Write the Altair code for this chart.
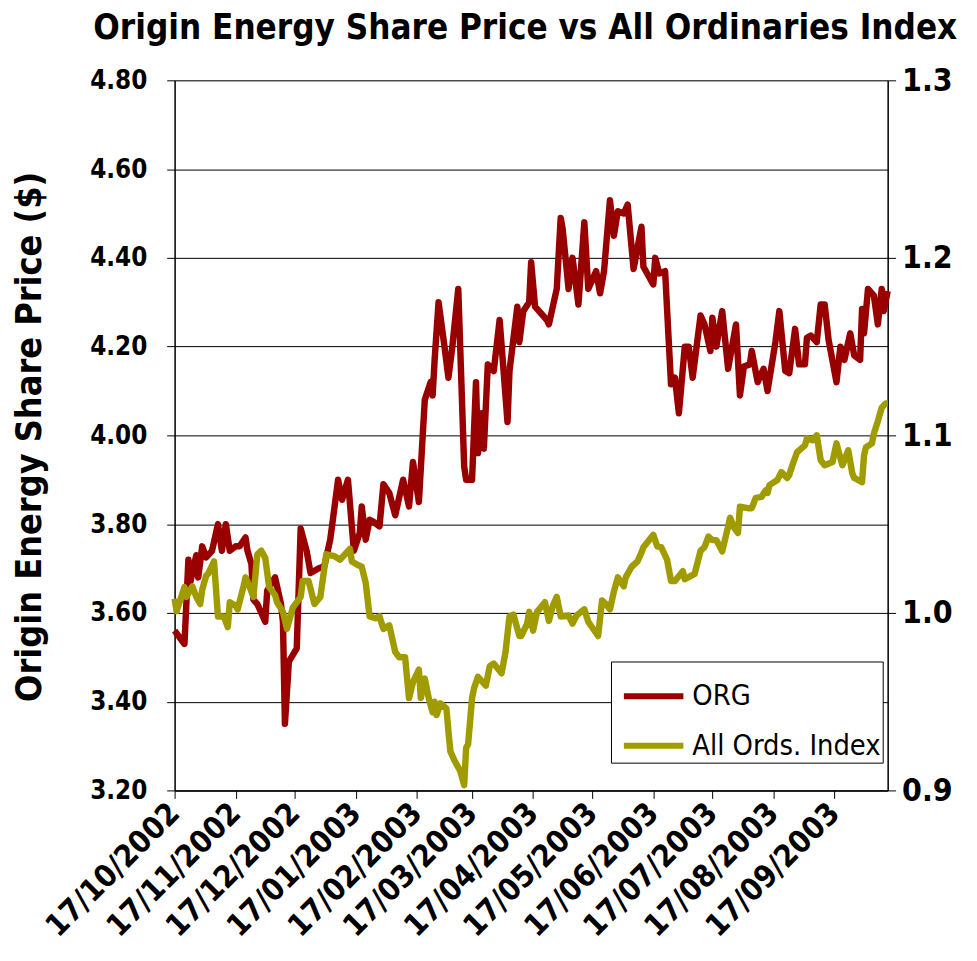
import altair as alt
import pandas as pd

# ORG share price: (days since 17/10/2002, price $)
org_days = [0, 5, 7, 8, 11, 12, 14, 16, 19, 22, 24, 26, 28, 31, 33, 36, 37, 39, 40, 42,
            46, 47, 51, 54, 55, 56, 58, 62, 64, 67, 69, 73, 76, 79, 83, 85, 88, 91, 94, 95,
            97, 99, 101, 104, 106, 109, 112, 116, 119, 121, 124, 127, 130, 131, 132, 134, 137, 139, 141, 144,
            147, 148, 151, 153, 154, 156, 157, 159, 162, 165, 169, 170, 174, 175, 177, 180, 181, 183, 189, 190,
            192, 194, 196, 197, 200, 202, 205, 208, 210, 214, 216, 218, 221, 223, 225, 228, 230, 233, 237, 238,
            243, 244, 246, 249, 252, 254, 256, 259, 261, 263, 267, 269, 272, 273, 275, 278, 281, 285, 287, 289,
            292, 293, 296, 299, 301, 305, 307, 310, 312, 315, 317, 320, 321, 323, 326, 328, 330, 332, 336, 338,
            340, 343, 345, 348, 349, 350, 352, 355, 357, 359, 360, 362]
org_vals = [3.56, 3.53, 3.72, 3.67, 3.73, 3.68, 3.75, 3.725, 3.74, 3.80, 3.74, 3.80, 3.74, 3.75, 3.75, 3.77, 3.74, 3.71, 3.63, 3.62,
            3.58, 3.65, 3.68, 3.62, 3.58, 3.35, 3.49, 3.52, 3.79, 3.74, 3.69, 3.70, 3.705, 3.765, 3.90, 3.855, 3.90, 3.74, 3.78, 3.84,
            3.765, 3.81, 3.805, 3.795, 3.89, 3.87, 3.82, 3.90, 3.84, 3.94, 3.85, 4.08, 4.12, 4.09, 4.17, 4.30, 4.20, 4.13, 4.20, 4.33,
            3.93, 3.90, 3.90, 4.12, 3.96, 4.05, 3.97, 4.16, 4.145, 4.26, 4.03, 4.145, 4.29, 4.21, 4.28, 4.30, 4.39, 4.29, 4.26, 4.25,
            4.29, 4.33, 4.49, 4.465, 4.33, 4.40, 4.295, 4.48, 4.33, 4.37, 4.32, 4.37, 4.53, 4.45, 4.505, 4.50, 4.52, 4.375, 4.47, 4.38,
            4.34, 4.40, 4.365, 4.37, 4.115, 4.13, 4.05, 4.20, 4.20, 4.13, 4.27, 4.25, 4.19, 4.265, 4.20, 4.28, 4.15, 4.25, 4.09, 4.155,
            4.16, 4.19, 4.12, 4.15, 4.10, 4.21, 4.28, 4.145, 4.14, 4.24, 4.16, 4.16, 4.22, 4.225, 4.21, 4.295, 4.295, 4.215, 4.12, 4.20,
            4.17, 4.23, 4.18, 4.17, 4.285, 4.23, 4.33, 4.315, 4.25, 4.33, 4.28, 4.325]

# All Ordinaries Index (relative): (days since 17/10/2002, index)
ords_days = [0, 1, 5, 6, 9, 11, 13, 14, 16, 17, 20, 22, 25, 27, 28, 31, 32, 35, 36, 38,
             40, 42, 44, 46, 48, 51, 52, 55, 57, 60, 64, 65, 68, 71, 74, 77, 81, 84, 89, 90,
             93, 95, 97, 99, 102, 104, 106, 109, 112, 114, 117, 119, 121, 124, 125, 127, 129, 131, 132, 133,
             135, 138, 139, 140, 142, 145, 147, 148, 149, 151, 152, 154, 158, 160, 162, 166, 168, 170, 172, 175,
             176, 179, 180, 182, 184, 188, 190, 192, 194, 196, 200, 202, 204, 208, 210, 215, 217, 219, 221, 223,
             225, 228, 229, 232, 235, 237, 238, 243, 245, 247, 250, 252, 254, 258, 259, 264, 267, 269, 271, 273,
             275, 278, 281, 282, 284, 286, 287, 291, 293, 295, 298, 300, 301, 302, 306, 308, 311, 312, 314, 316,
             320, 321, 324, 326, 328, 330, 334, 336, 338, 339, 342, 344, 345, 349, 350, 351, 354, 355, 357, 359,
             361, 362]
ords_vals = [1.008, 1.001, 1.0145, 1.009, 1.015, 1.009, 1.005, 1.013, 1.021, 1.022, 1.029, 0.998, 0.998, 0.992, 1.006, 1.004, 1.002, 1.015, 1.020, 1.015,
             1.009, 1.033, 1.035, 1.031, 1.0145, 1.010, 1.006, 1.0006, 0.991, 1.003, 1.009, 1.018, 1.018, 1.005, 1.009, 1.033, 1.032, 1.030, 1.036, 1.029,
             1.027, 1.026, 1.017, 0.998, 0.997, 0.998, 0.991, 0.993, 0.978, 0.975, 0.975, 0.952, 0.961, 0.968, 0.952, 0.963, 0.952, 0.944, 0.950, 0.9425,
             0.949, 0.946, 0.9335, 0.922, 0.917, 0.911, 0.903, 0.924, 0.926, 0.952, 0.9575, 0.964, 0.959, 0.970, 0.9715, 0.966, 0.978, 0.998, 0.999, 0.987,
             0.987, 0.994, 1.0006, 0.990, 1.0006, 1.006, 0.9955, 1.004, 1.009, 0.998, 0.9985, 0.994, 0.9985, 1.002, 0.995, 0.987, 1.007, 1.005, 1.002, 1.012,
             1.020, 1.015, 1.020, 1.026, 1.029, 1.034, 1.037, 1.044, 1.0375, 1.037, 1.030, 1.018, 1.018, 1.0235, 1.019, 1.022, 1.035, 1.037, 1.043, 1.041,
             1.041, 1.0347, 1.0486, 1.0536, 1.048, 1.045, 1.0598, 1.059, 1.059, 1.0648, 1.0654, 1.069, 1.0676, 1.072, 1.0749, 1.0793, 1.076, 1.0777, 1.0844, 1.0905,
             1.0944, 1.0983, 1.0972, 1.100, 1.086, 1.0832, 1.085, 1.0955, 1.0872, 1.0832, 1.0916, 1.0788, 1.076, 1.0737, 1.0888, 1.0933, 1.0955, 1.101, 1.108, 1.1156,
             1.118, 1.118]

series_names = ["ORG", "All Ords. Index"]
series_colors = ["#990000", "#A09C00"]
tick_months = [(2002, 10), (2002, 11), (2002, 12), (2003, 1), (2003, 2), (2003, 3), (2003, 4),
               (2003, 5), (2003, 6), (2003, 7), (2003, 8), (2003, 9)]
left_ticks = [3.2, 3.4, 3.6, 3.8, 4.0, 4.2, 4.4, 4.6, 4.8]
right_ticks = [0.9, 1.0, 1.1, 1.2, 1.3]

start = pd.Timestamp("2002-10-17")
org_df = pd.DataFrame({
    "date": [(start + pd.Timedelta(days=d)).strftime("%Y-%m-%d") for d in org_days],
    "price": org_vals,
    "series": series_names[0],
})
ords_df = pd.DataFrame({
    "date": [(start + pd.Timedelta(days=d)).strftime("%Y-%m-%d") for d in ords_days],
    "index": ords_vals,
    "series": series_names[1],
})

FONT = "DejaVu Sans Condensed, DejaVu Sans"

x_enc = alt.X(
    "date:T",
    scale=alt.Scale(type="utc",
                    domain=[alt.DateTime(year=2002, month=10, date=17, utc=True),
                            alt.DateTime(year=2003, month=10, date=14, utc=True)]),
    axis=alt.Axis(
        title="",
        values=[alt.DateTime(year=y, month=m, date=17, utc=True) for y, m in tick_months],
        format="%d/%m/%Y",
        labelAngle=315,
        labelAlign="right",
        labelBaseline="middle",
        labelFontSize=31,
        labelFontWeight="bold",
        labelFont=FONT,
        labelColor="black",
        labelLimit=400,
        labelPadding=10,
        labelOverlap=False,
        tickSize=8,
        tickColor="black",
        domainColor="black",
        domainWidth=1.5,
        grid=False,
    ),
)

color_enc = alt.Color(
    "series:N",
    scale=alt.Scale(domain=series_names, range=series_colors),
    legend=alt.Legend(
        title="",
        orient="none",
        legendX=440,
        legendY=586,
        symbolType="stroke",
        symbolStrokeWidth=6,
        symbolSize=3600,
        symbolOffset=8,
        labelFontSize=29,
        labelFont=FONT,
        labelColor="black",
        labelLimit=400,
        labelOffset=6,
        rowPadding=2,
        padding=2,
        strokeColor="black",
        fillColor="white",
    ),
)

org_line = alt.Chart(org_df).mark_line(strokeWidth=6.5, strokeJoin="round").encode(
    x=x_enc,
    y=alt.Y(
        "price:Q",
        scale=alt.Scale(domain=[3.2, 4.8], nice=False, zero=False),
        axis=alt.Axis(
            title="Origin Energy Share Price ($)",
            titleFontSize=36,
            titleFont=FONT,
            titleFontWeight="bold",
            titleColor="black",
            titleAngle=270,
            titleX=-146,
            titleY=359,
            titleAlign="center",
            titleBaseline="middle",
            values=left_ticks,
            format=".2f",
            labelFontSize=26,
            labelFontWeight="bold",
            labelFont=FONT,
            labelColor="black",
            labelPadding=20,
            tickSize=8,
            tickColor="black",
            domainColor="black",
            domainWidth=1.5,
            grid=True,
            gridColor="black",
            gridWidth=1,
        ),
    ),
    color=color_enc,
)

ords_line = alt.Chart(ords_df).mark_line(strokeWidth=6.5, strokeJoin="round").encode(
    x=x_enc,
    y=alt.Y(
        "index:Q",
        scale=alt.Scale(domain=[0.9, 1.3], nice=False, zero=False),
        axis=alt.Axis(
            title="",
            orient="right",
            values=right_ticks,
            format=".1f",
            labelFontSize=32,
            labelFontWeight="bold",
            labelFont=FONT,
            labelColor="black",
            labelPadding=6,
            tickSize=8,
            tickColor="black",
            domainColor="black",
            domainWidth=1.5,
            grid=False,
        ),
    ),
    color=color_enc,
)

chart = alt.layer(org_line, ords_line).resolve_scale(y="independent").properties(
    width=719,
    height=716,
    padding={"left": 168, "top": 69, "right": 82, "bottom": 160},
    autosize=alt.AutoSizeParams(type="none"),
    title=alt.TitleParams(
        text="Origin Energy Share Price vs All Ordinaries Index",
        anchor="start",
        dx=82,
        dy=9,
        offset=0,
        baseline="alphabetic",
        fontSize=35,
        font=FONT,
        fontWeight="bold",
        color="black",
    ),
).configure_view(stroke=None).configure(background="white")

chart.save("out.html", embed_options={"renderer": "svg", "actions": False})
